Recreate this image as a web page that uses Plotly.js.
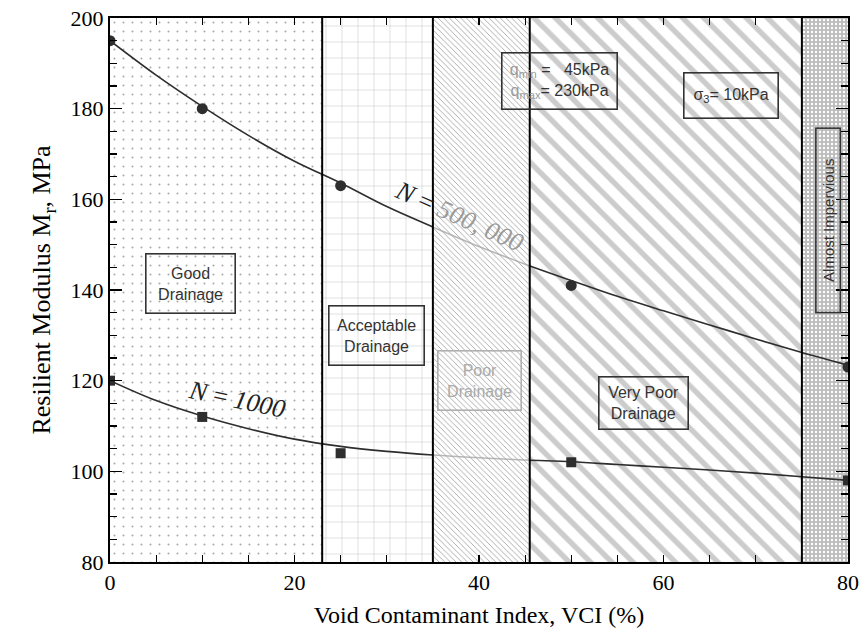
<!DOCTYPE html>
<html>
<head>
<meta charset="utf-8">
<script src="https://cdn.plot.ly/plotly-3.0.1.min.js"></script>
<style>
  html, body { margin: 0; padding: 0; background: #fff; }
  #chart { width: 866px; height: 640px; }
</style>
</head>
<body>
<div id="chart"></div>
<script>
// Measured resilient modulus vs. void contaminant index
const vci = [0, 10, 25, 50, 80];
const mr500k = [195, 180, 163, 141, 123];
const mr1000 = [120, 112, 104, 102, 98];

// Fitted trend curves
const fitX = [0, 5, 10, 15, 20, 25, 30, 35, 40, 45, 50, 55, 60, 65, 70, 75, 80];
const fit500k = [195, 187.4, 180.5, 174.1, 168.4, 163.6, 158.4, 153.9, 149.6, 145.7, 142.1, 138.6, 135.4, 132.3, 129.2, 126.2, 123.4];
const fit1000 = [120, 115.6, 112.2, 109.4, 107.1, 105.5, 104.4, 103.6, 103.0, 102.5, 102.1, 101.5, 100.9, 100.3, 99.6, 98.8, 98.0];

// Drainage zones (VCI boundaries)
const zoneEdges = [0, 23, 35, 45.5, 75, 80];
const zoneLabels = ['Good<br>Drainage', 'Acceptable<br>Drainage', 'Poor<br>Drainage', 'Very Poor<br>Drainage', 'Almost Impervious'];

const yMin = 80, yMax = 200;

const zonePatterns = [
  {shape: '.', size: 9, solidity: 0.04, fgcolor: '#a8a8a8', bgcolor: '#ffffff'},
  {shape: '+', size: 16, solidity: 0.07, fgcolor: '#cacaca', bgcolor: '#ffffff'},
  {shape: '\\', size: 4, solidity: 0.22, fgcolor: '#a4a4a4', bgcolor: 'rgba(255,255,255,0.66)'},
  {shape: '\\', size: 15, solidity: 0.36, fgcolor: '#cccccc', bgcolor: '#ffffff'},
  {shape: '.', size: 4, solidity: 0.28, fgcolor: '#ffffff', bgcolor: '#bdbdbd'}
];

function zoneTrace(i) {
  const x0 = zoneEdges[i], x1 = zoneEdges[i + 1];
  return {
    x: [x0, x1, x1, x0, x0],
    y: [yMin, yMin, yMax, yMax, yMin],
    mode: 'lines', fill: 'toself',
    line: {width: 0},
    fillcolor: zonePatterns[i].bgcolor,
    fillpattern: zonePatterns[i],
    hoverinfo: 'skip', showlegend: false
  };
}

const dark = '#2e2e2e';

const traces = [];
// background zones (the "Poor" zone is laid over the curves)
[0, 1, 3, 4].forEach(i => traces.push(zoneTrace(i)));

traces.push({
  x: fitX, y: fit500k, mode: 'lines',
  line: {color: dark, width: 1.6, shape: 'spline'}, showlegend: false
});
traces.push({
  x: fitX, y: fit1000, mode: 'lines',
  line: {color: dark, width: 1.6, shape: 'spline'}, showlegend: false
});
traces.push({
  x: vci, y: mr500k, mode: 'markers',
  marker: {symbol: 'circle', size: 11, color: dark}, showlegend: false
});
traces.push({
  x: vci, y: mr1000, mode: 'markers',
  marker: {symbol: 'square', size: 10, color: dark}, showlegend: false
});
traces.push(zoneTrace(2));

// thick zone boundaries
const shapes = zoneEdges.slice(1, -1).map(x => ({
  type: 'line', xref: 'x', yref: 'paper', x0: x, x1: x, y0: 0, y1: 1,
  line: {color: '#000', width: 2}, layer: 'above'
}));

const boxFont = {family: 'Liberation Sans, Arial, sans-serif', size: 16, color: '#333'};
function box(text, x, y, w, h, opts) {
  return Object.assign({
    text: text, x: x, y: y, xref: 'x', yref: 'y', showarrow: false,
    font: boxFont, bordercolor: '#333', borderwidth: 1.6, borderpad: 0,
    width: w, height: h, align: 'center', bgcolor: 'rgba(0,0,0,0)'
  }, opts || {});
}

const grey = '#9a9a9a';
const annotations = [
  box(zoneLabels[0], 8.7, 141.5, 88, 58),
  box(zoneLabels[1], 28.9, 129.9, 94, 58),
  box(zoneLabels[2], 40.1, 120.1, 82, 58, {font: Object.assign({}, boxFont, {color: '#aaa'}), bordercolor: '#b0b0b0'}),
  box(zoneLabels[3], 57.8, 115.0, 88, 51),
  box(zoneLabels[4], 77.8, 155.3, 183, 23, {textangle: -90, font: Object.assign({}, boxFont, {size: 15})}),
  box('<span style="color:' + grey + '">q<sub>min</sub></span> =   45kPa<br><span style="color:' + grey + '">q<sub>max</sub></span>= 230kPa',
      48.7, 186.0, 114, 55),
  box('σ<sub>3</sub>= 10kPa', 67.3, 183.0, 93, 44),
  {
    text: '<i>N</i> = <span style="color:' + grey + '"><i>500, 000</i></span>',
    x: 37.9, y: 156.3, xref: 'x', yref: 'y', showarrow: false, textangle: 24,
    font: {family: 'Liberation Serif, Times New Roman, serif', size: 26, color: '#222'}
  },
  {
    text: '<i>N</i> = <i>1000</i>',
    x: 13.8, y: 115.8, xref: 'x', yref: 'y', showarrow: false, textangle: 12,
    font: {family: 'Liberation Serif, Times New Roman, serif', size: 26, color: '#222'}
  }
];

const serif = 'Liberation Serif, Times New Roman, serif';
const layout = {
  width: 866, height: 640,
  margin: {l: 110, r: 18, t: 18, b: 78},
  paper_bgcolor: '#fff', plot_bgcolor: '#fff',
  showlegend: false,
  xaxis: {
    range: [0, 80], dtick: 20, tick0: 0,
    showgrid: false, zeroline: false,
    showline: true, linecolor: '#000', linewidth: 2, mirror: 'allticks',
    ticks: 'inside', ticklen: 7, tickwidth: 1.2, tickcolor: '#000',
    minor: {dtick: 5, ticks: 'inside', ticklen: 7, tickwidth: 1.2, tickcolor: '#000', showgrid: false},
    tickfont: {family: serif, size: 22, color: '#000'},
    title: {text: 'Void Contaminant Index, VCI (%)', font: {family: serif, size: 24, color: '#000'}, standoff: 12}
  },
  yaxis: {
    range: [80, 200], dtick: 20, tick0: 80,
    showgrid: false, zeroline: false,
    showline: true, linecolor: '#000', linewidth: 2, mirror: 'allticks',
    ticks: 'inside', ticklen: 12, tickwidth: 1.2, tickcolor: '#000',
    minor: {dtick: 5, ticks: 'inside', ticklen: 7, tickwidth: 1.2, tickcolor: '#000', showgrid: false},
    tickfont: {family: serif, size: 22, color: '#000'},
    title: {text: 'Resilient Modulus M<sub>r</sub>, MPa', font: {family: serif, size: 26, color: '#000'}, standoff: 12}
  },
  shapes: shapes,
  annotations: annotations
};

Plotly.newPlot('chart', traces, layout, {displayModeBar: false, staticPlot: true});
</script>
</body>
</html>
